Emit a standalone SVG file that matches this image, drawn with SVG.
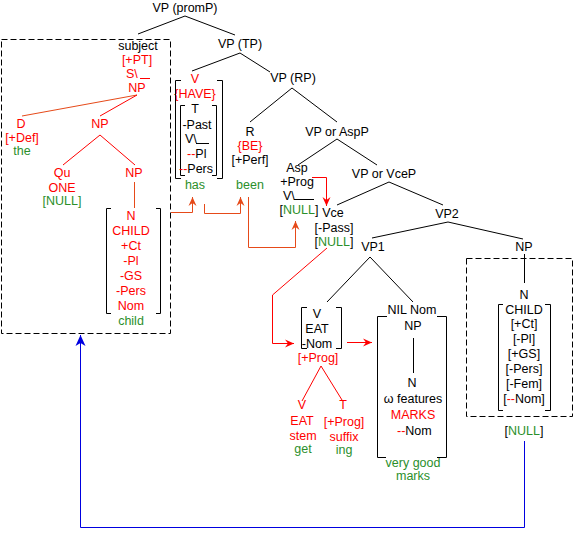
<svg xmlns="http://www.w3.org/2000/svg" width="574" height="547" viewBox="0 0 574 547">
<defs>
<style>
text{font-family:"Liberation Sans",Arial,sans-serif;font-size:12.5px;text-anchor:middle;fill:#000}
.st{text-anchor:start}
.r{fill:#f00}
.g{fill:#2b8f2b}
.l{stroke:#000;stroke-width:1;fill:none}
.lr{stroke:#f00;stroke-width:1;fill:none}
.lo{stroke:#e64a19;stroke-width:1;fill:none}
.lb{stroke:#0000e0;stroke-width:1;fill:none}
.dash{stroke:#000;stroke-width:1;fill:none;stroke-dasharray:6 3}
.br{stroke:#000;stroke-width:1;fill:none}
</style>
<marker id="ao" markerUnits="userSpaceOnUse" markerWidth="12" markerHeight="12" viewBox="-1 -6 12 12" refX="9" refY="0" orient="auto">
<path d="M0,-4 L9,0 L0,4 L3,0 z" fill="#e64a19"/>
</marker>
<marker id="ar" markerUnits="userSpaceOnUse" markerWidth="12" markerHeight="12" viewBox="-1 -6 12 12" refX="9" refY="0" orient="auto">
<path d="M0,-4 L9,0 L0,4 L3,0 z" fill="#f00"/>
</marker>
<marker id="ab" markerUnits="userSpaceOnUse" markerWidth="14" markerHeight="14" viewBox="-1 -7 14 14" refX="11" refY="0" orient="auto">
<path d="M0,-5 L11,0 L0,5 L3,0 z" fill="#0000e0"/>
</marker>
</defs>
<rect width="574" height="547" fill="#fff"/>

<g id="connectors">
<path class="l" d="M185,16 L138,34 M185,16 L235,35"/>
<path class="l" d="M240,53 L192,71 M240,53 L270,72"/>
<path class="l" d="M292,88 L250,122 M292,88 L337,122"/>
<path class="l" d="M337,139 L298,165 M337,139 L377,165"/>
<path class="l" d="M389,182 L337,205 M389,182 L443,205"/>
<path class="l" d="M448,222 L372,238 M448,222 L523,239"/>
<path class="l" d="M370,257 L327,302 M370,257 L413,302"/>
<path class="l" d="M524.5,254 V283"/>
<path class="l" d="M413.5,338 V373"/>
<path class="lo" d="M137,95 L22,116"/>
<path class="lr" d="M137,95 L100,116"/>
<path class="lr" d="M100,135 L63,165 M100,135 L135,165"/>
<path class="lo" d="M134.5,182 V208"/>
<path class="lr" d="M321,366 L302,401 M321,366 L342,400"/>
<path class="lo" d="M171,212.5 H192.5 V197" marker-end="url(#ao)"/>
<path class="lo" d="M204.5,204 V213.5 H240.5 V197" marker-end="url(#ao)"/>
<path class="lo" d="M248.5,197 V247.5 H295.5 V221" marker-end="url(#ao)"/>
<path class="lr" d="M312,177.5 H326.5 V206" marker-end="url(#ar)"/>
<path class="lr" d="M327,248 L272.5,295 V343.5 H294" marker-end="url(#ar)"/>
<path class="lr" d="M347,342.5 H372" marker-end="url(#ar)"/>
<path class="lb" d="M524.5,441 V527.5 H80.5 V335" marker-end="url(#ab)"/>
</g>

<g id="promP"><text x="185" y="12">VP (promP)</text></g>
<g id="TP"><text x="240" y="48">VP (TP)</text></g>
<g id="RP"><text x="293" y="82">VP (RP)</text></g>
<g id="AspP"><text x="337" y="136">VP or AspP</text></g>
<g id="VceP"><text x="384" y="178">VP or VceP</text></g>
<g id="VP2"><text x="447" y="218">VP2</text></g>
<g id="VP1"><text x="373" y="251">VP1</text></g>

<g id="subject">
<rect class="dash" x="1.5" y="39.5" width="169" height="294"/>
<text x="138" y="50">subject</text>
<text class="r" x="137" y="64">[+PT]</text>
<text class="r st" x="126" y="78">S\</text>
<path class="lr" d="M140,78.5 H150"/>
<text class="r" x="137" y="92">NP</text>
<text class="r" x="21" y="128">D</text>
<text class="r" x="22" y="142">[+Def]</text>
<text class="g" x="22" y="155">the</text>
<text class="r" x="100" y="128">NP</text>
<text class="r" x="62" y="177">Qu</text>
<text class="r" x="62" y="192">ONE</text>
<text class="g" x="62" y="205">[NULL]</text>
<text class="r" x="134" y="177">NP</text>
<path class="br" d="M111,208.5 H106.5 V313.5 H111 M156,208.5 H160.5 V313.5 H156"/>
<text class="r" x="131" y="220">N</text>
<text class="r" x="131" y="235">CHILD</text>
<text class="r" x="131" y="250">+Ct</text>
<text class="r" x="131" y="265">-Pl</text>
<text class="r" x="131" y="280">-GS</text>
<text class="r" x="131" y="295">-Pers</text>
<text class="r" x="131" y="310">Nom</text>
<text class="g" x="131" y="325">child</text>
</g>

<g id="V-have">
<text class="r" x="195" y="83">V</text>
<text class="r" x="195" y="98">{HAVE}</text>
<path class="br" d="M181,80.5 H175.5 V178.5 H181 M217,80.5 H222.5 V178.5 H217"/>
<path class="br" d="M185,105.5 H180.5 V175.5 H185 M212,105.5 H216.5 V175.5 H212"/>
<text x="195" y="113">T</text>
<text x="197" y="129">-Past</text>
<text class="st" x="185" y="143">V\</text>
<path class="l" d="M196,143.5 H209"/>
<text class="st" x="187" y="158"><tspan class="r">--</tspan>Pl</text>
<text class="st" x="179" y="173"><tspan class="r">--</tspan>Pers</text>
<text class="g" x="195" y="189">has</text>
</g>

<g id="R">
<text x="250" y="136">R</text>
<text class="r" x="250" y="150">{BE}</text>
<text x="250" y="164">[+Perf]</text>
<text class="g" x="250" y="189">been</text>
</g>

<g id="Asp">
<text x="297" y="172">Asp</text>
<text x="297" y="186">+Prog</text>
<text class="st" x="283" y="200">V\</text>
<path class="l" d="M294,199.5 H314"/>
<text x="299" y="214">[<tspan class="g">NULL</tspan>]</text>
</g>

<g id="Vce">
<text x="333" y="217">Vce</text>
<text x="334" y="232">[-Pass]</text>
<text x="334" y="246">[<tspan class="g">NULL</tspan>]</text>
</g>

<g id="V-eat">
<path class="br" d="M307,307.5 H301.5 V348.5 H307 M336,307.5 H341.5 V348.5 H336"/>
<text x="317" y="318">V</text>
<text x="317" y="333">EAT</text>
<text x="317" y="348">-Nom</text>
<text class="r" x="318" y="362">[+Prog]</text>
<text class="r" x="302" y="409">V</text>
<text class="r" x="343" y="409">T</text>
<text class="r" x="302" y="425">EAT</text>
<text class="r" x="303" y="440">stem</text>
<text class="g" x="303" y="453">get</text>
<text class="r" x="344" y="426">[+Prog]</text>
<text class="r" x="344" y="441">suffix</text>
<text class="g" x="344" y="454">ing</text>
</g>

<g id="NP-nil">
<text x="412" y="314">NIL Nom</text>
<path class="br" d="M387,316.5 H377.5 V457.5 H386 M437,316.5 H446.5 V457.5 H437"/>
<text x="413" y="330">NP</text>
<text x="412" y="387">N</text>
<text x="413" y="403">ω features</text>
<text class="r" x="413" y="419">MARKS</text>
<text class="st" x="397" y="435"><tspan class="r">--</tspan>Nom</text>
<text class="g" x="413" y="467">very good</text>
<text class="g" x="413" y="480">marks</text>
</g>

<g id="NP-obj">
<text x="524" y="251">NP</text>
<rect class="dash" x="466.5" y="258.5" width="106" height="158"/>
<text x="524" y="299">N</text>
<path class="br" d="M503,304.5 H498.5 V410.5 H503 M545,304.5 H550.5 V410.5 H545"/>
<text x="524" y="314">CHILD</text>
<text x="524" y="328">[+Ct]</text>
<text x="524" y="343">[-Pl]</text>
<text x="524" y="358">[+GS]</text>
<text x="524" y="373">[-Pers]</text>
<text x="524" y="388">[-Fem]</text>
<text x="524" y="403">[<tspan class="r">--</tspan>Nom]</text>
<text x="524" y="435">[<tspan class="g">NULL</tspan>]</text>
</g>
</svg>
